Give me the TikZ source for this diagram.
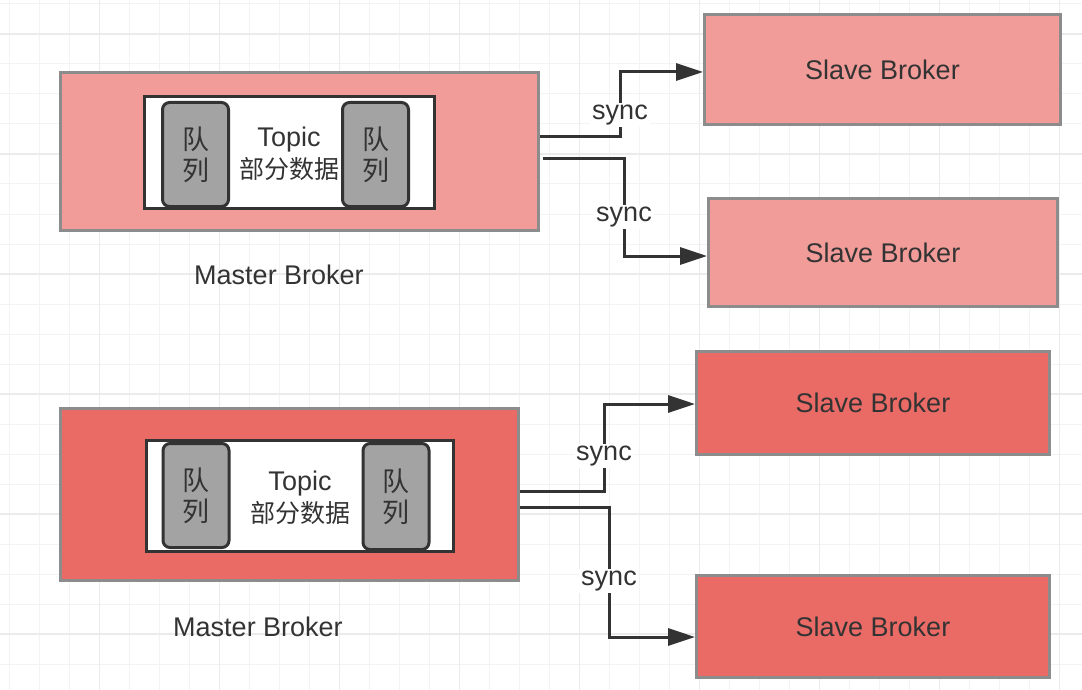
\documentclass[tikz,border=0pt]{standalone}
\usepackage{fontspec}
\setmainfont{Liberation Sans}
\newfontfamily\cjkfont{Noto Sans CJK SC}
\usetikzlibrary{arrows.meta}
\definecolor{pinkfill}{HTML}{F19C99}
\definecolor{redfill}{HTML}{EA6B66}
\definecolor{boxgray}{HTML}{8C8C8C}
\definecolor{queuegray}{HTML}{A3A3A3}
\definecolor{ink}{HTML}{333333}
\definecolor{gridminor}{HTML}{F3F3F3}
\definecolor{gridmajor}{HTML}{EBEBEB}

\begin{document}
\begin{tikzpicture}[x=1pt,y=-1pt,
  every node/.style={inner sep=0pt,text=ink,font=\fontsize{27}{32}\selectfont},
  broker/.style={draw=boxgray,line width=3pt,minimum width=#1},
  topicbox/.style={draw=ink,line width=3pt,fill=white},
  queuebox/.style={draw=ink,line width=3pt,fill=queuegray,rounded corners=7pt,minimum width=66pt,align=center,font=\cjkfont\fontsize{27}{31}\selectfont},
  syncline/.style={draw=ink,line width=3pt,-{Triangle[length=27pt,width=17pt]}},
  synclabel/.style={fill=white,inner sep=2pt}]
\useasboundingbox (0,0) rectangle (1082,690);
\fill[white] (0,0) rectangle (1082,690);
% grid
\foreach \i in {0,...,35} \draw[gridminor,line width=1pt] (9.3+30*\i,0) -- (9.3+30*\i,690);
\foreach \j in {0,...,22} \draw[gridminor,line width=1pt] (0,4+30*\j) -- (1082,4+30*\j);
\foreach \i in {0,...,8} \draw[gridmajor,line width=1.5pt] (99.3+120*\i,0) -- (99.3+120*\i,690);
\foreach \j in {0,...,5} \draw[gridmajor,line width=1.5pt] (0,34+120*\j) -- (1082,34+120*\j);

% upper group
\node[broker=478pt,fill=pinkfill,minimum height=158pt] (master1) at (299.5,151.5) {};
\node[topicbox,minimum width=290pt,minimum height=112pt] (inner1) at (289.5,152.5) {};
\node[queuebox,minimum height=104pt] (queueL1) at (195.5,154.5) {队\\列};
\node[queuebox,minimum height=104pt] (queueR1) at (375.5,154.5) {队\\列};
\node[align=center] (topic1) at (289,154) {Topic\\{\cjkfont\fontsize{25}{32}\selectfont 部分数据}};
\node (label1) at (279,275) {Master Broker};
\node[broker=356pt,fill=pinkfill,minimum height=110pt] (slave1) at (882.5,69.5) {Slave Broker};
\node[broker=349pt,fill=pinkfill,minimum height=108pt] (slave2) at (883,252.5) {Slave Broker};
\draw[syncline] ([yshift=14.5pt]master1.east) -- ++(80,0) |- node[synclabel,pos=0.17] (sync1) {sync} ([yshift=-2.5pt]slave1.west); %to slave1
\draw[syncline] ([xshift=3pt,yshift=-7.5pt]master1.east) -- ++(81,0) |- node[synclabel,pos=0.3] (sync2) {sync} ([yshift=-3.5pt]slave2.west); %to slave2

% lower group
\node[broker=458pt,fill=redfill,minimum height=172pt] (master2) at (289.5,494.5) {};
\node[topicbox,minimum width=307pt,minimum height=111pt] (inner2) at (300,496) {};
\node[queuebox,minimum height=104pt] (queueL2) at (196,495.5) {队\\列};
\node[queuebox,minimum height=106pt] (queueR2) at (396,496.5) {队\\列};
\node[align=center] (topic2) at (300,498) {Topic\\{\cjkfont\fontsize{25}{32}\selectfont 部分数据}};
\node (label2) at (258,627) {Master Broker};
\node[broker=353pt,fill=redfill,minimum height=103pt] (slave3) at (873,403) {Slave Broker};
\node[broker=353pt,fill=redfill,minimum height=102pt] (slave4) at (873,626.5) {Slave Broker};
\draw[syncline] ([yshift=3.5pt]master2.east) -- ++(84,0) |- node[synclabel,pos=0.2] (sync3) {sync} ([yshift=-1pt]slave3.west); %to slave3
\draw[syncline] ([yshift=-12.5pt]master2.east) -- ++(89,0) |- node[synclabel,pos=0.285] (sync4) {sync} ([yshift=-10.5pt]slave4.west); %to slave4
\end{tikzpicture}
\end{document}
